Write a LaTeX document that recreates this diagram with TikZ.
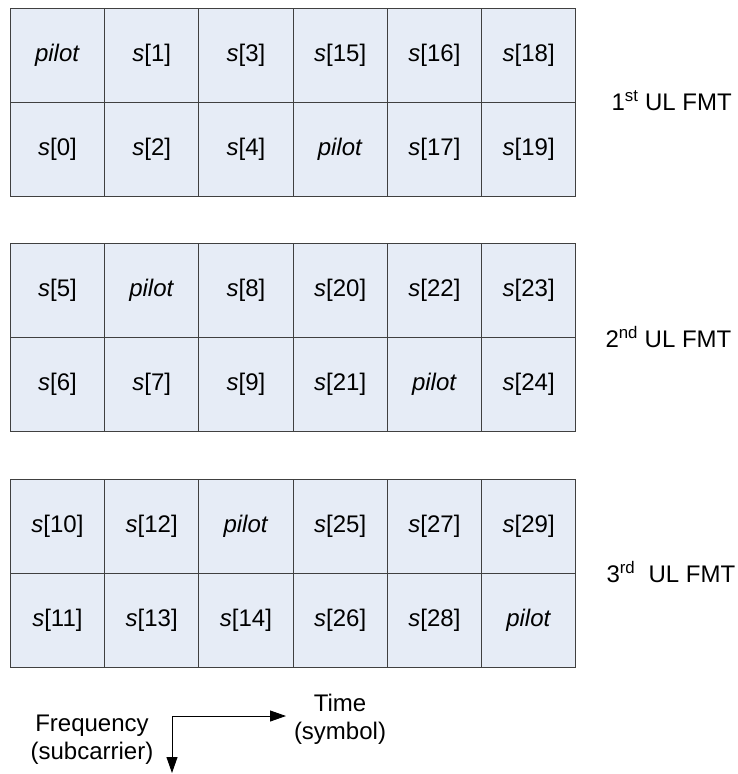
\documentclass[tikz,border=0pt]{standalone}
\usepackage{fontspec}
\setmainfont{Liberation Sans}
\usetikzlibrary{arrows.meta}
\definecolor{cellfill}{RGB}{230,236,246}
\newcommand{\sy}[1]{\textit{s}[#1]}
\newcommand{\pil}{\textit{pilot}}

\begin{document}
\begin{tikzpicture}[x=1pt,y=-1pt,
  every node/.style={font=\fontsize{24}{28}\selectfont},
  cell/.style={draw=black!75,line width=0.9pt,fill=cellfill,minimum width=94.25pt,minimum height=94pt,inner sep=0pt}]
\useasboundingbox (0,0) rectangle (737,774);

% 1st UL FMT
\foreach \t [count=\i] in {\pil,\sy{1},\sy{3},\sy{15},\sy{16},\sy{18}}
  \node[cell] (a1\i) at (-36.8+94.25*\i,55) {\t};
\foreach \t [count=\i] in {\sy{0},\sy{2},\sy{4},\pil,\sy{17},\sy{19}}
  \node[cell] (a2\i) at (-36.8+94.25*\i,149) {\t};
\node[anchor=west] (FA) at (608,101) {1\textsuperscript{st} UL FMT};

% 2nd UL FMT
\foreach \t [count=\i] in {\sy{5},\pil,\sy{8},\sy{20},\sy{22},\sy{23}}
  \node[cell] (b1\i) at (-36.8+94.25*\i,290.5) {\t};
\foreach \t [count=\i] in {\sy{6},\sy{7},\sy{9},\sy{21},\pil,\sy{24}}
  \node[cell] (b2\i) at (-36.8+94.25*\i,384.5) {\t};
\node[anchor=west] (FB) at (602,337) {2\textsuperscript{nd} UL FMT};

% 3rd UL FMT
\foreach \t [count=\i] in {\sy{10},\sy{12},\pil,\sy{25},\sy{27},\sy{29}}
  \node[cell] (c1\i) at (-36.8+94.25*\i,526) {\t};
\foreach \t [count=\i] in {\sy{11},\sy{13},\sy{14},\sy{26},\sy{28},\pil}
  \node[cell] (c2\i) at (-36.8+94.25*\i,620) {\t};
\node[anchor=west] (FC) at (603,572) {3\textsuperscript{rd}\ \ UL FMT};

% axes
\coordinate (OR) at (172,716);
\coordinate (TI) at (286,716);
\coordinate (FR) at (172,773);
\draw[line width=0.9pt,{Triangle[length=16pt,width=11pt]}-{Triangle[length=16pt,width=11pt]}] (TI) -- (OR) -- (FR);
\node[align=center] (FQ) at (92,740) {Frequency\\(subcarrier)};
\node[align=center] (TM) at (340,719) {Time\\(symbol)};

\end{tikzpicture}
\end{document}
